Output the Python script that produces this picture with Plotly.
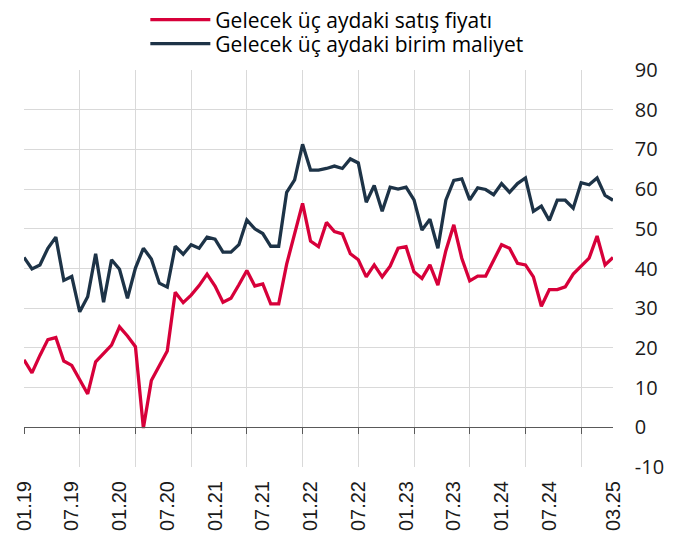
import plotly.graph_objects as go

# monthly, 01.19 .. 03.25
months = [f"{m:02d}.{y:02d}" for y in range(19, 26) for m in range(1, 13)][:75]

satis_fiyati = [17.0, 13.7, 18.1, 22.1, 22.6, 16.7, 15.6, 12.2, 8.4, 16.5, 18.7, 20.7,
                25.3, 23.0, 20.3, -0.2, 11.8, 15.6, 19.2, 34.0, 31.4, 33.3, 35.7, 38.6,
                35.6, 31.5, 32.5, 35.9, 39.5, 35.6, 36.1, 31.1, 31.1, 41.1, 48.5, 56.4,
                46.9, 45.5, 51.6, 49.3, 48.7, 43.7, 42.2, 37.9, 40.9, 37.9, 40.6, 45.1,
                45.5, 39.2, 37.5, 40.9, 35.8, 44.5, 51.0, 42.6, 36.9, 38.1, 38.1, 42.2,
                46.0, 45.1, 41.3, 40.9, 37.9, 30.5, 34.7, 34.7, 35.4, 38.6, 40.6, 42.6,
                48.2, 40.9, 42.8]

birim_maliyet = [42.8, 39.9, 40.9, 45.1, 47.9, 37.0, 38.0, 29.1, 32.9, 43.7, 31.5, 42.2,
                 39.8, 32.5, 40.1, 45.1, 42.4, 36.3, 35.3, 45.6, 43.6, 46.0, 45.1, 47.9,
                 47.4, 44.1, 44.1, 46.0, 52.2, 50.0, 48.8, 45.6, 45.6, 59.2, 62.3, 71.3,
                 64.8, 64.8, 65.2, 65.8, 65.2, 67.6, 66.6, 56.7, 60.9, 54.4, 60.5, 60.0,
                 60.5, 57.3, 49.7, 52.4, 45.1, 57.2, 62.2, 62.6, 57.3, 60.3, 59.9, 58.6,
                 61.4, 59.2, 61.4, 62.8, 54.4, 55.7, 52.1, 57.2, 57.2, 55.2, 61.6, 61.1,
                 62.8, 58.4, 57.2]

series_names = ["Gelecek üç aydaki satış fiyatı", "Gelecek üç aydaki birim maliyet"]
series_colors = ["#D7003A", "#1D3347"]

y_ticks = list(range(-10, 100, 10))
y_ticktext = ["\u00a0" * 4 + str(v) for v in y_ticks]
label_idx = list(range(0, 67, 6)) + [74]
grid_idx = list(range(0, 71, 7))

x = list(range(len(months)))
ymin, ymax = -10, 90

fig = go.Figure()
for name, vals, col, lg in zip(series_names, [satis_fiyati, birim_maliyet],
                               series_colors, ["legend", "legend2"]):
    fig.add_trace(go.Scatter(x=x, y=vals, mode="lines", name=name, legend=lg,
                             line=dict(color=col, width=3.3)))

tick_font = dict(family="Open Sans", size=20, color="#1a1a1a")
xlab_font = dict(family="Liberation Sans, Arial", size=20, color="#1a1a1a")
leg_font = dict(family="Open Sans", size=21, color="#000000")
xr = [0, len(months) - 1]

leg_common = dict(x=0.206, xanchor="left", yanchor="middle",
                  bgcolor="rgba(0,0,0,0)", font=leg_font, itemwidth=60)

fig.update_layout(
    width=695, height=533,
    margin=dict(l=24, r=82, t=70, b=66, autoexpand=False),
    paper_bgcolor="white", plot_bgcolor="white",
    font=tick_font,
    showlegend=True,
    legend=dict(y=1.126, **leg_common),
    legend2=dict(y=1.0656, **leg_common),
    xaxis=dict(range=xr, tickvals=grid_idx, showticklabels=False, showgrid=True,
               gridcolor="#D9D9D9", gridwidth=1.3, zeroline=False, showline=False,
               ticks=""),
    xaxis2=dict(range=xr, overlaying="x", anchor="free",
                position=(0 - ymin) / (ymax - ymin),
                tickvals=grid_idx, showticklabels=False, showgrid=False,
                zeroline=False, showline=True, linecolor="#595959", linewidth=1.3,
                ticks="outside", ticklen=6, tickcolor="#595959", tickwidth=1.3),
    xaxis3=dict(range=xr, overlaying="x", anchor="y", side="bottom",
                tickvals=label_idx, ticktext=[months[i] for i in label_idx],
                tickangle=-90, showgrid=False, zeroline=False, showline=False,
                ticks="outside", ticklen=5, tickcolor="rgba(0,0,0,0)",
                tickfont=xlab_font),
    yaxis=dict(range=[ymin, ymax], side="right", tickvals=y_ticks,
               ticktext=y_ticktext, showgrid=True,
               gridcolor="#D9D9D9", gridwidth=1.3, zeroline=False, showline=False,
               ticks="", tickfont=tick_font),
)

# invisible helper traces to activate the extra x axes
fig.add_trace(go.Scatter(x=[0], y=[None], xaxis="x2", showlegend=False, hoverinfo="skip"))
fig.add_trace(go.Scatter(x=[0], y=[None], xaxis="x3", showlegend=False, hoverinfo="skip"))

fig.write_html("out.html", config={"displayModeBar": False},
               post_script="document.body.style.margin='0';document.body.style.overflow='hidden';")
